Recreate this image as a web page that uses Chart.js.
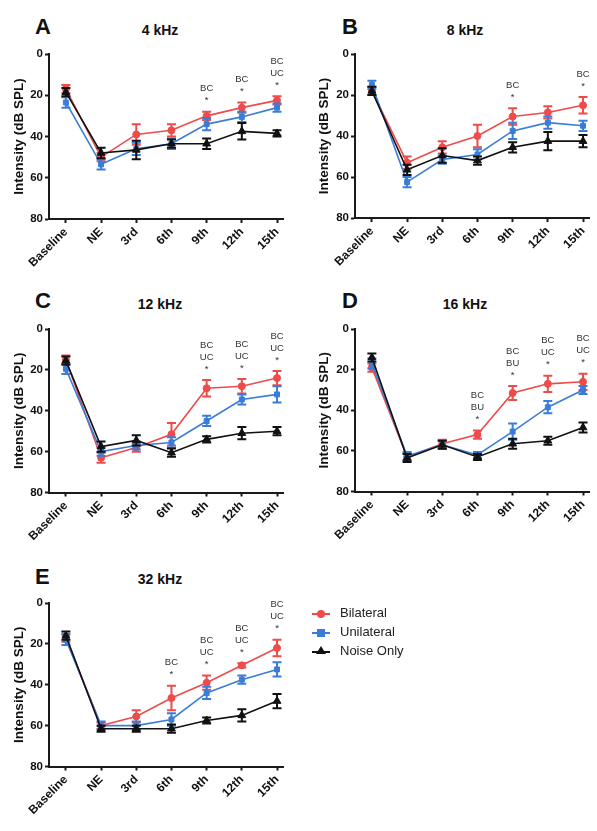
<!DOCTYPE html>
<html>
<head>
<meta charset="utf-8">
<script src="https://cdn.jsdelivr.net/npm/chart.js@4.4.1/dist/chart.umd.min.js"></script>
<style>
  body { margin: 0; background: #fff; font-family: "Liberation Sans", Arial, sans-serif; }
  #page { position: relative; width: 597px; height: 831px; overflow: hidden; }
  canvas { position: absolute; }
  .letter { position: absolute; font: bold 22px "Liberation Sans", Arial, sans-serif; color: #111; line-height: 1; }
  .title { position: absolute; font: bold 14px "Liberation Sans", Arial, sans-serif; color: #111; width: 100px; text-align: center; line-height: 1; }
  .legend { position: absolute; left: 312px; top: 605px; font: 13px "Liberation Sans", Arial, sans-serif; color: #222; white-space: nowrap; }
  .legend .row { position: relative; height: 19px; }
  .legend .ln { position: absolute; left: 0; top: 8px; width: 18px; height: 2px; }
  .legend .mk { position: absolute; }
  .legend .txt { position: absolute; left: 28px; top: 0; line-height: 16px; }
</style>
</head>
<body>
<div id="page">
  <div class="letter" style="left:35px;top:16px">A</div>
  <div class="title" style="left:110px;top:23px">4 kHz</div>
  <div class="letter" style="left:342px;top:16px">B</div>
  <div class="title" style="left:415px;top:23px">8 kHz</div>
  <div class="letter" style="left:35px;top:290px">C</div>
  <div class="title" style="left:110px;top:297px">12 kHz</div>
  <div class="letter" style="left:342px;top:290px">D</div>
  <div class="title" style="left:415px;top:297px">16 kHz</div>
  <div class="letter" style="left:35px;top:566px">E</div>
  <div class="title" style="left:110px;top:572px">32 kHz</div>

  <canvas id="cA"></canvas>
  <canvas id="cB"></canvas>
  <canvas id="cC"></canvas>
  <canvas id="cD"></canvas>
  <canvas id="cE"></canvas>

  <div class="legend">
    <div class="row">
      <div class="ln" style="background:#EE4B4B"></div>
      <div class="mk" style="left:5px;top:5px;width:8px;height:8px;border-radius:50%;background:#EE4B4B"></div>
      <div class="txt">Bilateral</div>
    </div>
    <div class="row">
      <div class="ln" style="background:#3A7DD8"></div>
      <div class="mk" style="left:5px;top:5px;width:8px;height:8px;background:#3A7DD8"></div>
      <div class="txt">Unilateral</div>
    </div>
    <div class="row">
      <div class="ln" style="background:#111"></div>
      <div class="mk" style="left:4px;top:3px;width:0;height:0;border-left:5px solid transparent;border-right:5px solid transparent;border-bottom:8px solid #111"></div>
      <div class="txt">Noise Only</div>
    </div>
  </div>
</div>

<script>
const timepoints = ['Baseline', 'NE', '3rd', '6th', '9th', '12th', '15th'];
const seriesNames = ['Bilateral', 'Unilateral', 'Noise Only'];

// 4 kHz
const bil4 = [17, 50, 39, 37, 30, 26, 22.5];
const bil4Err = [2, 2, 5, 3, 2, 2.5, 2];
const uni4 = [23.5, 53.5, 46, 43.5, 34, 30.5, 26];
const uni4Err = [2.5, 2.5, 3, 2.5, 3, 2.5, 2];
const noise4 = [18.5, 48, 46.5, 43.5, 43.5, 37.5, 38.5];
const noise4Err = [2, 2.5, 4.5, 2, 2.5, 4, 1.5];
const sig4 = [[4, ['BC']], [5, ['BC']], [6, ['BC', 'UC']]];

// 8 kHz
const bil8 = [18, 53, 45.5, 40, 30.5, 28.5, 25];
const bil8Err = [2, 3, 3, 5.5, 4, 3, 4];
const uni8 = [15, 62.5, 51.5, 49, 37.5, 33.5, 35];
const uni8Err = [2, 2.5, 2, 2.5, 4, 3, 2.5];
const noise8 = [18, 56.5, 49.5, 52, 45.5, 42.5, 42.5];
const noise8Err = [2, 2.5, 3.5, 2, 2.5, 4.5, 3];
const sig8 = [[4, ['BC']], [6, ['BC']]];

// 12 kHz
const bil12 = [15, 63, 58, 51.5, 29, 28, 24];
const bil12Err = [2, 2.5, 2, 5.5, 4, 3.5, 3.5];
const uni12 = [19.5, 60, 57, 55.5, 45, 34.5, 32];
const uni12Err = [2.5, 2, 2, 2.5, 2.5, 2.5, 4];
const noise12 = [15.5, 57.5, 54.5, 60.5, 54, 51, 50];
const noise12Err = [2, 2.5, 2.5, 2, 1.5, 3, 2];
const sig12 = [[4, ['BC', 'UC']], [5, ['BC', 'UC']], [6, ['BC', 'UC']]];

// 16 kHz
const bil16 = [19, 63, 56.5, 52, 31.5, 27, 26];
const bil16Err = [2, 2, 2, 2, 3.5, 4, 4];
const uni16 = [17, 62.5, 57, 62, 50.5, 38.5, 30];
const uni16Err = [2.5, 2, 2, 1.5, 4, 3, 2];
const noise16 = [14, 63.5, 57, 63, 56.5, 55, 48.5];
const noise16Err = [2, 2, 2, 1.5, 2.5, 2, 2.5];
const sig16 = [[3, ['BC', 'BU']], [4, ['BC', 'BU']], [5, ['BC', 'UC']], [6, ['BC', 'UC']]];

// 32 kHz
const bil32 = [17, 60, 55.5, 46.5, 39, 30.5, 22];
const bil32Err = [2, 1.5, 3, 6, 3.5, 1, 4];
const uni32 = [18, 60, 60, 57, 44, 37.5, 32.5];
const uni32Err = [2.5, 2, 2, 3, 3, 2, 3.5];
const noise32 = [16, 61.5, 61.5, 61.5, 57.5, 55, 48];
const noise32Err = [2, 1.5, 1.5, 2, 1.5, 3, 3.5];
const sig32 = [[3, ['BC']], [4, ['BC', 'UC']], [5, ['BC', 'UC']], [6, ['BC', 'UC']]];

const yTicks = [0, 20, 40, 60, 80];

const RED = '#EE4B4B';
const BLUE = '#3A7DD8';
const BLACK = '#111111';
const AXIS = '#1a1a1a';
const FONT = '"Liberation Sans", Arial, sans-serif';

// error bars drawn right after each line so they stack like the points do
const errorBars = {
  id: 'errorBars',
  afterDatasetDraw(chart, args) {
    const ds = chart.data.datasets[args.index];
    if (!ds.errors) return;
    const xs = chart.scales.x, ys = chart.scales.y;
    const ctx = chart.ctx;
    ctx.save();
    ctx.strokeStyle = ds.borderColor;
    ctx.lineWidth = 2;
    ds.data.forEach((p, i) => {
      const px = xs.getPixelForValue(p.x);
      const top = ys.getPixelForValue(p.y - ds.errors[i]);
      const bot = ys.getPixelForValue(p.y + ds.errors[i]);
      ctx.beginPath();
      ctx.moveTo(px, top); ctx.lineTo(px, bot);
      ctx.moveTo(px - 4.5, top); ctx.lineTo(px + 4.5, top);
      ctx.moveTo(px - 4.5, bot); ctx.lineTo(px + 4.5, bot);
      ctx.stroke();
    });
    ctx.restore();
  }
};

function sigLabels(marks) {
  return {
    id: 'sigLabels',
    afterDraw(chart) {
      const ctx = chart.ctx;
      const xs = chart.scales.x, ys = chart.scales.y;
      ctx.save();
      ctx.fillStyle = '#333';
      ctx.textAlign = 'center';
      ctx.textBaseline = 'middle';
      marks.forEach(([idx, lines]) => {
        let topVal = Infinity;
        chart.data.datasets.forEach(ds => {
          topVal = Math.min(topVal, ds.data[idx].y - ds.errors[idx]);
        });
        const px = xs.getPixelForValue(idx);
        const starY = ys.getPixelForValue(topVal) - 13;
        ctx.font = '9.5px ' + FONT;
        ctx.fillText('*', px, starY + 2);
        lines.slice().reverse().forEach((t, k) => {
          ctx.fillText(t, px, starY - 10 - k * 12);
        });
      });
      ctx.restore();
    }
  };
}

function series(label, vals, errs, color, style, radius, order) {
  return {
    label: label,
    data: vals.map((v, i) => ({ x: i, y: v })),
    errors: errs,
    borderColor: color,
    backgroundColor: color,
    borderWidth: 1.6,
    pointStyle: style,
    pointRadius: radius,
    pointBorderWidth: 1,
    tension: 0,
    order: order
  };
}

function panel(id, box, bil, bilErr, uni, uniErr, noise, noiseErr, marks) {
  const cv = document.getElementById(id);
  cv.width = box.w;
  cv.height = box.h;
  cv.style.left = box.left + 'px';
  cv.style.top = box.top + 'px';
  return new Chart(cv, {
    type: 'line',
    data: {
      datasets: [
        series(seriesNames[0], bil, bilErr, RED, 'circle', 3.5, 2),
        series(seriesNames[1], uni, uniErr, BLUE, 'rect', 3.5, 1),
        series(seriesNames[2], noise, noiseErr, BLACK, 'triangle', 4.5, 0)
      ]
    },
    options: {
      responsive: false,
      animation: false,
      devicePixelRatio: 1,
      layout: { padding: { top: 54, right: box.padRight, left: 0, bottom: 0 } },
      plugins: { legend: { display: false }, tooltip: { enabled: false } },
      scales: {
        x: {
          type: 'linear',
          min: -0.48,
          max: 6.17,
          afterBuildTicks: s => { s.ticks = timepoints.map((t, i) => ({ value: i })); },
          afterFit: s => { s.height = box.h - 54 - box.plotH; },
          ticks: {
            callback: v => timepoints[v],
            minRotation: 45,
            maxRotation: 45,
            color: '#111',
            padding: 2,
            font: { family: FONT, size: 12, weight: 'bold' }
          },
          grid: { drawOnChartArea: false, drawTicks: true, tickLength: 4, tickWidth: 2, tickColor: AXIS },
          border: { display: true, width: 2, color: AXIS }
        },
        y: {
          min: 0,
          max: 80,
          reverse: true,
          afterBuildTicks: s => { s.ticks = yTicks.map(v => ({ value: v })); },
          afterFit: s => { s.width = box.yW; },
          ticks: {
            color: '#111',
            padding: 2,
            font: { family: FONT, size: 11.5, weight: 'bold' }
          },
          title: {
            display: true,
            text: 'Intensity (dB SPL)',
            color: '#111',
            padding: { top: 11, bottom: 0 },
            font: { family: FONT, size: 13.5, weight: 'bold' }
          },
          grid: { drawOnChartArea: false, drawTicks: true, tickLength: 4, tickWidth: 2, tickColor: AXIS },
          border: { display: true, width: 2, color: AXIS }
        }
      }
    },
    plugins: [errorBars, sigLabels(marks)]
  });
}

panel('cA', { left: 0, top: 0, w: 297, h: 280, plotH: 165, yW: 49, padRight: 14 },
  bil4, bil4Err, uni4, uni4Err, noise4, noise4Err, sig4);
panel('cB', { left: 305, top: 0, w: 292, h: 280, plotH: 164, yW: 50, padRight: 8 },
  bil8, bil8Err, uni8, uni8Err, noise8, noise8Err, sig8);
panel('cC', { left: 0, top: 275, w: 297, h: 278, plotH: 163.5, yW: 49, padRight: 14 },
  bil12, bil12Err, uni12, uni12Err, noise12, noise12Err, sig12);
panel('cD', { left: 305, top: 275, w: 292, h: 278, plotH: 162.5, yW: 50, padRight: 8 },
  bil16, bil16Err, uni16, uni16Err, noise16, noise16Err, sig16);
panel('cE', { left: 0, top: 549, w: 297, h: 280, plotH: 163.5, yW: 49, padRight: 14 },
  bil32, bil32Err, uni32, uni32Err, noise32, noise32Err, sig32);
</script>
</body>
</html>
